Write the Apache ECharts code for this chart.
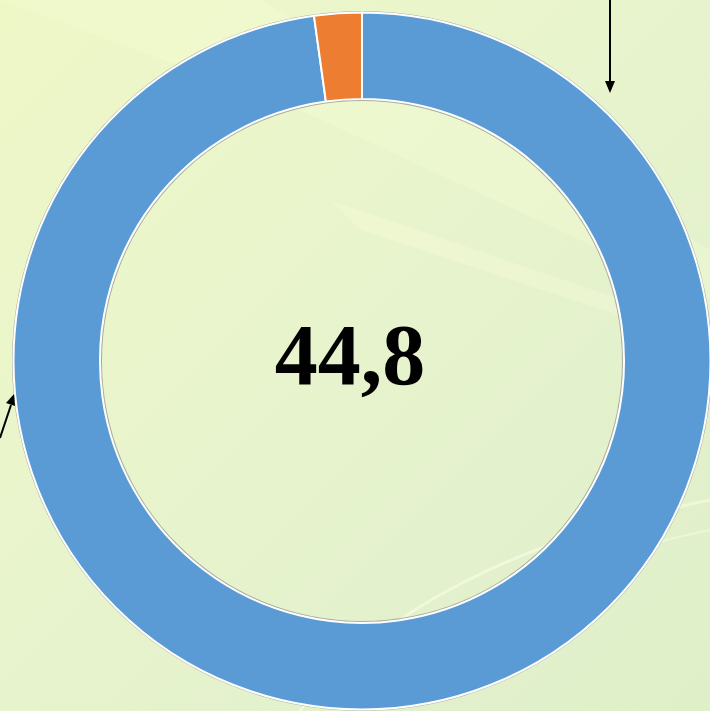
<!DOCTYPE html>
<html><head><meta charset="utf-8">
<script src="https://cdn.jsdelivr.net/npm/echarts@6/dist/echarts.min.js"></script>
<style>html,body{margin:0;padding:0;}#c{width:710px;height:711px;}</style>
</head><body><div id="c"></div>
<script>
const categories = ['A', 'B'];
const values = [97.8, 2.2];
const colors = ['#5B9BD5', '#ED7D31'];
const centerText = '44,8';

const chart = echarts.init(document.getElementById('c'), null, {renderer: 'canvas'});
chart.setOption({
  backgroundColor: {
    type: 'linear', x: 0, y: 0, x2: 1, y2: 1,
    colorStops: [
      {offset: 0, color: '#eef7c6'},
      {offset: 0.35, color: '#eaf5cc'},
      {offset: 0.7, color: '#e3f1cd'},
      {offset: 1, color: '#dff0c8'}
    ]
  },
  animation: false,
  graphic: [
    {type: 'polygon', silent: true, z: 0, shape: {points: [[0,0],[260,0],[710,250],[710,300],[300,110]]},
      style: {fill: 'rgba(250,255,215,0.3)'}},
    {type: 'polygon', silent: true, z: 0, shape: {points: [[330,200],[710,330],[710,345],[360,230]]},
      style: {fill: 'rgba(255,255,220,0.25)'}},
    {type: 'bezierCurve', silent: true, z: 0, shape: {x1: 300, y1: 711, x2: 710, y2: 500, cpx1: 420, cpy1: 560}, style: {stroke: 'rgba(255,255,235,0.5)', lineWidth: 3, fill: null}},
    {type: 'bezierCurve', silent: true, z: 0, shape: {x1: 340, y1: 711, x2: 710, y2: 530, cpx1: 470, cpy1: 580}, style: {stroke: 'rgba(255,255,235,0.4)', lineWidth: 2, fill: null}},
    {type: 'line', silent: true, z: 10, shape: {x1: 610, y1: 0, x2: 610, y2: 82}, style: {stroke: '#000', lineWidth: 2}},
    {type: 'polygon', silent: true, z: 10, shape: {points: [[605,81],[615,81],[610,93]]}, style: {fill: '#000'}},
    {type: 'line', silent: true, z: 10, shape: {x1: 0, y1: 438, x2: 11, y2: 405}, style: {stroke: '#000', lineWidth: 2}},
    {type: 'polygon', silent: true, z: 10, shape: {points: [[6,403],[15,406],[14,394]]}, style: {fill: '#000'}},
    {type: 'text', silent: true, z: 10, x: 350, y: 362,
      style: {text: centerText, fill: '#000', font: 'bold 86px "Liberation Serif", "DejaVu Serif", serif',
        textAlign: 'center', textVerticalAlign: 'middle'}}
  ],
  series: [
    {
      type: 'pie', silent: true, center: [362, 361], radius: [260, 350],
      label: {show: false}, labelLine: {show: false},
      itemStyle: {color: '#a9ad9c'},
      data: [{value: 1, name: 'outline'}], z: 1
    },
    {
      type: 'pie', center: [362, 361], radius: [262, 348.5],
      startAngle: 90, clockwise: true,
      label: {show: false}, labelLine: {show: false},
      itemStyle: {borderColor: '#ffffff', borderWidth: 2},
      data: categories.map((c, i) => ({name: c, value: values[i], itemStyle: {color: colors[i]}})),
      z: 2
    }
  ]
});
</script></body></html>
